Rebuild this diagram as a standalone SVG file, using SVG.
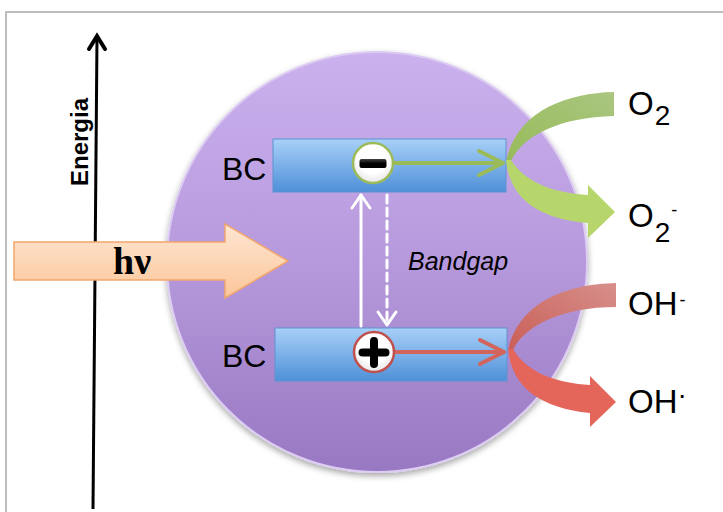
<svg xmlns="http://www.w3.org/2000/svg" width="723" height="512" viewBox="0 0 723 512">
<defs>
<linearGradient id="gCircle" x1="0" y1="0" x2="0" y2="1">
<stop offset="0" stop-color="#cbb1ee"/>
<stop offset="0.5" stop-color="#b699dc"/>
<stop offset="1" stop-color="#9878c2"/>
</linearGradient>
<linearGradient id="gBar" x1="0" y1="0" x2="0" y2="1">
<stop offset="0" stop-color="#a8d0f8"/>
<stop offset="1" stop-color="#4f90d8"/>
</linearGradient>
<linearGradient id="gHv" x1="0" y1="0" x2="0" y2="1">
<stop offset="0" stop-color="#fee6d2"/>
<stop offset="1" stop-color="#fbc699"/>
</linearGradient>
<linearGradient id="gGreenUp" x1="1" y1="0" x2="0" y2="1">
<stop offset="0" stop-color="#aac680"/>
<stop offset="1" stop-color="#97bb58"/>
</linearGradient>
<linearGradient id="gRedUp" x1="1" y1="0" x2="0" y2="1">
<stop offset="0" stop-color="#d78f8a"/>
<stop offset="1" stop-color="#c95e57"/>
</linearGradient>
<radialGradient id="gDot" cx="0.5" cy="0.4" r="0.6">
<stop offset="0.6" stop-color="#ffffff"/>
<stop offset="1" stop-color="#e6e6e6"/>
</radialGradient>
<linearGradient id="gSign" x1="0" y1="0" x2="0" y2="1">
<stop offset="0" stop-color="#444"/>
<stop offset="0.5" stop-color="#000"/>
<stop offset="1" stop-color="#000"/>
</linearGradient>
<filter id="shadow" x="-10%" y="-10%" width="120%" height="125%">
<feDropShadow dx="0" dy="3" stdDeviation="3" flood-color="#000" flood-opacity="0.35"/>
</filter>
</defs>
<style>
.lbl{font-family:"Liberation Sans",Arial,sans-serif;fill:#000}
.bar{fill:url(#gBar);stroke:#5d93d0;stroke-width:1}
.wl{stroke:#fff;stroke-width:3;fill:none;stroke-linecap:round;stroke-linejoin:round}
</style>
<rect x="6" y="12" width="740" height="520" fill="#fff" stroke="#bdbdbd" stroke-width="2"/>

<g id="energy-axis">
<line x1="97" y1="37" x2="93" y2="509" stroke="#000" stroke-width="3"/>
<polyline points="89,49 97,36 105,49" fill="none" stroke="#000" stroke-width="4" stroke-linecap="round" stroke-linejoin="miter"/>
<text class="lbl" transform="translate(88,186) rotate(-90)" font-size="24" font-weight="bold">Energia</text>
</g>

<g id="particle">
<circle cx="377" cy="262" r="210" fill="url(#gCircle)" stroke="#dccbf2" stroke-width="2" filter="url(#shadow)"/>
</g>

<g id="photon">
<path d="M14,242 L225,242 L225,224 L288,261 L225,298 L225,280 L14,280 Z" fill="url(#gHv)" stroke="#f2a66b" stroke-width="1.5"/>
<text x="113" y="274" font-family="'Liberation Serif','Times New Roman',serif" font-weight="bold" font-size="38" fill="#000">hν</text>
</g>

<g id="bc-top">
<rect class="bar" x="273" y="139" width="233" height="53"/>
<text class="lbl" x="222" y="180" font-size="32">BC</text>
</g>

<g id="bc-bottom">
<rect class="bar" x="275" y="328" width="232" height="53"/>
<text class="lbl" x="222" y="367" font-size="32">BC</text>
</g>

<g id="bandgap-label">
<text class="lbl" x="408" y="270" font-size="25" font-style="italic">Bandgap</text>
</g>

<g id="connectors">
<line x1="361" y1="326" x2="361" y2="195" class="wl"/>
<polyline points="352,208 361,195 370,208" class="wl"/>
<line x1="387" y1="195" x2="387" y2="322" class="wl" stroke-dasharray="8,5" stroke-linecap="butt"/>
<polyline points="378,312 387,325 396,312" class="wl"/>
<line x1="393" y1="163" x2="503" y2="163" stroke="#9bbb59" stroke-width="4"/>
<polyline points="479,151 503,163 479,175" fill="none" stroke="#9bbb59" stroke-width="4" stroke-linecap="round" stroke-linejoin="round"/>
<line x1="394" y1="352" x2="504" y2="352" stroke="#d2645b" stroke-width="4"/>
<polyline points="480,340 504,352 480,364" fill="none" stroke="#d2645b" stroke-width="4" stroke-linecap="round" stroke-linejoin="round"/>
</g>

<g id="electron">
<circle cx="373" cy="163" r="20" fill="url(#gDot)" stroke="#9bbb59" stroke-width="2.5"/>
<rect x="359.5" y="159" width="27" height="9" rx="2" fill="url(#gSign)"/>
</g>

<g id="hole">
<circle cx="374" cy="352" r="20" fill="url(#gDot)" stroke="#c0504d" stroke-width="2.5"/>
<path d="M374,341 L374,364 M362.5,352.5 L385.5,352.5" stroke="#000" stroke-width="8" stroke-linecap="round"/>
</g>

<g id="o2-arrow">
<path d="M614,92 C565,93 516,112 506,162 L511,161 C522,136 560,117 614,116 Z" fill="url(#gGreenUp)"/>
<path d="M506,160 C510,200 540,219 588,223 L588,238 L615,212 L588,185 L588,195 C556,193 526,184 511,160 Z" fill="#b6d66c"/>
</g>

<g id="oh-arrow">
<path d="M616,283 C567,284 518,302 508,351 L513,350 C524,326 562,307 616,307 Z" fill="url(#gRedUp)"/>
<path d="M508,349 C512,389 542,408 590,413 L590,427 L616,402 L590,376 L590,385 C558,383 528,374 513,349 Z" fill="#e4665b"/>
</g>

<g id="o2">
<text class="lbl" x="628" y="115" font-size="33">O<tspan dx="1" dy="10" font-size="28">2</tspan></text>
</g>
<g id="o2-minus">
<text class="lbl" x="628" y="227" font-size="33">O<tspan dx="1" dy="15" font-size="28">2</tspan><tspan dx="1" dy="-26" font-size="18">-</tspan></text>
</g>
<g id="oh-minus">
<text class="lbl" x="628" y="315" font-size="33">OH<tspan dx="2" dy="-9" font-size="18">-</tspan></text>
</g>
<g id="oh-radical">
<text class="lbl" x="628" y="413" font-size="33">OH<tspan dx="0" dy="-9" font-size="28">·</tspan></text>
</g>
</svg>
